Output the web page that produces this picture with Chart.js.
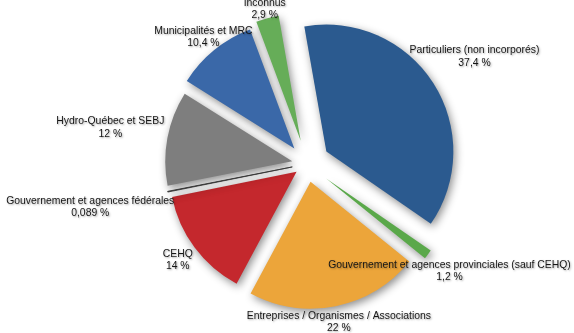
<!DOCTYPE html>
<html>
<head>
<meta charset="utf-8">
<script src="https://cdn.jsdelivr.net/npm/chart.js@4"></script>
<style>
  html, body { margin: 0; padding: 0; background: #fff; }
  #wrap { width: 574px; height: 333px; }
</style>
</head>
<body>
<div id="wrap"><canvas id="pie"></canvas></div>
<script>
const categories = [
    "Particuliers (non incorporés)",
    "Gouvernement et agences provinciales (sauf CEHQ)",
    "Entreprises / Organismes / Associations",
    "CEHQ",
    "Gouvernement et agences fédérales",
    "Hydro-Québec et SEBJ",
    "Municipalités et MRC",
    "Inconnus"
];
const shares = [37.4, 1.2, 22, 14, 0.089, 12, 10.4, 2.9];
const shareLabels = ["37,4 %", "1,2 %", "22 %", "14 %", "0,089 %", "12 %", "10,4 %", "2,9 %"];

// look
const colors = ["#2b5a8f", "#5aa84a", "#eca53a", "#c4282d", "#3a3a3a", "#7e7e7e", "#3a68a8", "#66ad58"];
const explodeBy = [23, 24, 18, 13, 15, 15, 20, 24];   // px out from centre
const labelGap = [49, 27, 16, 21, 79, 58, 17, 10];    // px beyond slice edge to label centre

// pushes each slice out along its mid angle (without the built-in offset enlarging thin slices)
const explodePlugin = {
    id: "explode",
    beforeDatasetsDraw(chart) {
        const meta = chart.getDatasetMeta(0);
        meta.data.forEach((arc, i) => {
            if (arc._exploded) return;
            const base = arc.draw;
            arc.draw = function (ctx) {
                const mid = (this.startAngle + this.endAngle) / 2;
                const d = explodeBy[i];
                ctx.save();
                ctx.translate(Math.cos(mid) * d, Math.sin(mid) * d);
                base.call(this, ctx);
                ctx.restore();
            };
            arc._exploded = true;
        });
        const ctx = chart.ctx;
        ctx.save();
        ctx.shadowColor = "rgba(0,0,0,0.45)";
        ctx.shadowBlur = 8;
        ctx.shadowOffsetX = 2;
        ctx.shadowOffsetY = 3;
    },
    afterDatasetsDraw(chart) {
        chart.ctx.restore();
    }
};

const labelPlugin = {
    id: "outLabels",
    afterDraw(chart) {
        const ctx = chart.ctx;
        const meta = chart.getDatasetMeta(0);
        ctx.save();
        ctx.font = "10.4px 'Liberation Sans', Arial, sans-serif";
        ctx.fillStyle = "#161616";
        ctx.textAlign = "center";
        ctx.textBaseline = "middle";
        ctx.shadowColor = "rgba(0,0,0,0.35)";
        ctx.shadowBlur = 2;
        ctx.shadowOffsetX = 1;
        ctx.shadowOffsetY = 1;
        meta.data.forEach((arc, i) => {
            const mid = (arc.startAngle + arc.endAngle) / 2;
            const dist = arc.outerRadius + explodeBy[i] + labelGap[i];
            const x = arc.x + Math.cos(mid) * dist;
            const y = arc.y + Math.sin(mid) * dist;
            ctx.fillText(categories[i], x, y - 6);
            ctx.fillText(shareLabels[i], x, y + 6.5);
        });
        ctx.restore();
    }
};

new Chart(document.getElementById("pie"), {
    type: "pie",
    data: {
        labels: categories,
        datasets: [{
            data: shares,
            backgroundColor: colors,
            borderColor: colors,
            borderWidth: [0, 0, 0, 0, 0.8, 0, 0, 0]
        }]
    },
    options: {
        responsive: true,
        maintainAspectRatio: false,
        animation: false,
        rotation: -10,
        radius: 127,
        layout: { padding: { left: 40, right: 0, top: 0, bottom: 5 } },
        plugins: { legend: { display: false }, tooltip: { enabled: false } }
    },
    plugins: [explodePlugin, labelPlugin]
});
</script>
</body>
</html>
